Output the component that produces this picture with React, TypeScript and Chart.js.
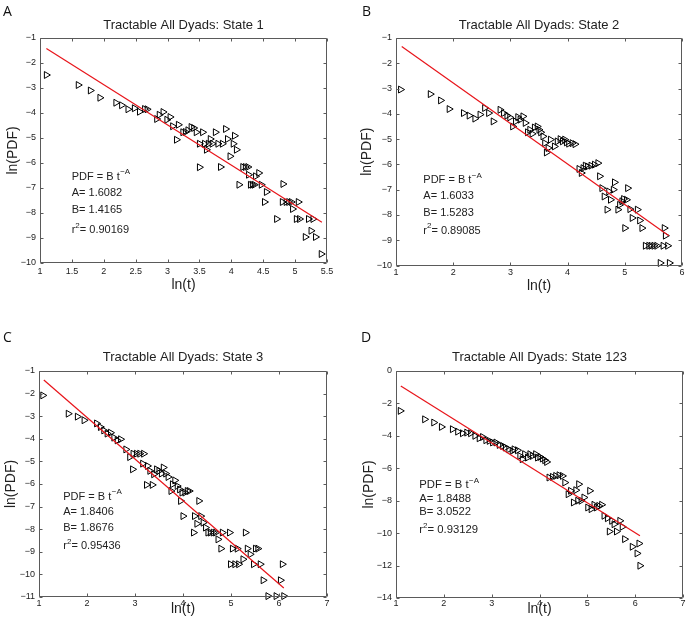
import React, { useEffect, useRef } from "react";
import { Chart, registerables } from "chart.js";

Chart.register(...registerables);

// ---------- data ----------
const panelLetters = ["A", "B", "C", "D"];
const panelTitles = [
  "Tractable All Dyads: State 1",
  "Tractable All Dyads: State 2",
  "Tractable All Dyads: State 3",
  "Tractable All Dyads: State 123",
];
const fitAText = ["1.6082", "1.6033", "1.8406", "1.8488"];
const fitBText = ["1.4165", "1.5283", "1.8676", "3.0522"];
const fitR2Text = ["0.90169", "0.89085", "0.95436", "0.93129"];

const xTitle = "ln(t)";
const yTitle = "ln(PDF)";

// axis ranges [min, max, step]
const xRanges = [
  [1, 5.5, 0.5],
  [1, 6, 1],
  [1, 7, 1],
  [1, 7, 1],
];
const yRanges = [
  [-10, -1, 1],
  [-10, -1, 1],
  [-11, -1, 1],
  [-14, 0, 2],
];

// fitted line end points
const fitLineX1 = [1.1, 5.42];
const fitLineY1 = [-1.421, -8.368];
const fitLineX2 = [1.1, 5.77];
const fitLineY2 = [-1.340, -8.827];
const fitLineX3 = [1.1, 6.1];
const fitLineY3 = [-1.4, -10.603];
const fitLineX4 = [1.1, 6.1];
const fitLineY4 = [-0.918, -10.162];

// annotation anchor (data coords)
const noteX = [1.497, 1.478, 1.506, 1.487];
const noteY = [-6.548, -6.617, -6.562, -7.03];

// State 1
const state1X = [1.10,1.60,1.79,1.94,2.19,2.28,2.38,2.48,2.56,2.64,2.68,2.83,2.87,2.93,2.99,3.04,3.08,3.14,3.17,3.24,3.28,3.32,3.37,3.41,3.45,3.50,3.50,3.55,3.58,3.61,3.64,3.67,3.70,3.75,3.79,3.83,3.86,3.91,3.94,3.98,4.03,4.05,4.08,4.12,4.18,4.22,4.26,4.27,4.30,4.33,4.36,4.38,4.43,4.47,4.52,4.55,4.71,4.80,4.81,4.86,4.90,4.94,4.96,5.02,5.05,5.07,5.16,5.21,5.25,5.28,5.32,5.41];
const state1Y = [-2.48,-2.88,-3.10,-3.39,-3.59,-3.69,-3.85,-3.81,-3.95,-3.84,-3.85,-4.24,-4.07,-3.96,-4.27,-4.16,-4.53,-5.07,-4.47,-4.77,-4.76,-4.69,-4.56,-4.60,-4.77,-5.23,-6.17,-4.77,-5.23,-5.47,-5.23,-5.04,-5.23,-4.77,-5.23,-6.16,-5.23,-4.64,-5.04,-5.73,-5.23,-4.91,-5.47,-6.87,-6.16,-6.16,-6.16,-6.47,-6.87,-6.87,-6.87,-6.53,-6.40,-6.87,-7.56,-7.16,-8.24,-7.56,-6.84,-7.56,-7.56,-7.56,-7.84,-8.24,-7.56,-8.24,-8.96,-8.24,-8.71,-8.24,-8.96,-9.64];

// State 2
const state2X = [1.08,1.60,1.78,1.93,2.18,2.28,2.38,2.47,2.55,2.62,2.70,2.82,2.88,2.94,2.99,3.04,3.09,3.13,3.17,3.22,3.26,3.30,3.34,3.38,3.42,3.47,3.50,3.53,3.57,3.60,3.63,3.66,3.70,3.77,3.82,3.87,3.91,3.95,3.98,4.02,4.08,4.13,4.20,4.24,4.27,4.31,4.35,4.41,4.47,4.53,4.56,4.60,4.64,4.69,4.72,4.75,4.80,4.82,4.88,4.91,4.95,4.98,5.00,5.03,5.05,5.09,5.13,5.22,5.26,5.30,5.36,5.42,5.46,5.51,5.56,5.62,5.67,5.69,5.71,5.75,5.78];
const state2Y = [-3.04,-3.22,-3.47,-3.81,-3.97,-4.07,-4.19,-4.03,-3.77,-3.97,-4.30,-3.84,-3.97,-4.07,-4.14,-4.50,-4.30,-4.13,-4.23,-4.10,-4.36,-4.73,-4.63,-4.79,-4.54,-4.50,-4.63,-4.73,-4.89,-5.16,-5.53,-5.35,-5.02,-5.29,-5.09,-5.00,-5.09,-5.02,-5.13,-5.18,-5.16,-5.20,-6.18,-6.34,-6.15,-6.05,-6.08,-6.05,-6.01,-5.95,-6.47,-6.94,-7.27,-7.79,-7.07,-7.40,-7.00,-6.71,-7.79,-7.60,-7.46,-7.37,-8.52,-7.40,-6.94,-7.77,-8.12,-7.79,-8.22,-8.52,-9.22,-9.22,-9.22,-9.22,-9.22,-9.90,-9.22,-8.52,-8.82,-9.22,-9.90];

// State 3
const state3X = [1.08,1.61,1.80,1.94,2.20,2.28,2.35,2.42,2.49,2.56,2.63,2.70,2.81,2.89,2.95,2.96,3.03,3.10,3.16,3.18,3.26,3.31,3.24,3.36,3.39,3.45,3.50,3.55,3.59,3.64,3.69,3.75,3.78,3.83,3.88,3.93,3.95,3.98,4.00,4.04,4.09,4.13,4.22,4.24,4.29,4.33,4.37,4.42,4.47,4.52,4.57,4.63,4.68,4.73,4.79,4.82,4.97,4.99,5.03,5.08,5.13,5.16,5.25,5.30,5.34,5.40,5.47,5.51,5.56,5.61,5.67,5.77,5.94,6.03,6.07,6.10];
const state3Y = [-2.08,-2.89,-3.02,-3.18,-3.32,-3.48,-3.63,-3.77,-3.73,-3.95,-4.07,-4.02,-4.47,-4.81,-5.35,-4.66,-4.66,-4.66,-5.10,-4.66,-5.20,-5.42,-6.04,-6.04,-5.57,-5.35,-5.42,-5.54,-5.27,-5.54,-5.69,-6.31,-6.01,-5.84,-6.09,-6.24,-6.75,-6.38,-7.42,-6.38,-6.31,-6.31,-8.15,-7.42,-7.76,-6.75,-7.42,-7.71,-7.93,-8.15,-8.15,-8.15,-8.15,-8.45,-8.86,-8.15,-8.15,-9.55,-8.86,-9.55,-8.86,-9.55,-9.33,-8.15,-8.86,-9.11,-9.55,-8.86,-8.86,-9.55,-10.26,-10.96,-10.96,-10.26,-9.55,-10.96];

// State 123
const state123X = [1.09,1.60,1.79,1.95,2.18,2.29,2.39,2.48,2.56,2.65,2.74,2.81,2.88,2.95,3.02,3.09,3.16,3.23,3.29,3.36,3.43,3.47,3.54,3.59,3.64,3.69,3.75,3.80,3.85,3.92,3.96,4.01,4.06,4.11,4.15,4.20,4.27,4.34,4.41,4.48,4.53,4.60,4.65,4.71,4.76,4.80,4.82,4.87,4.93,5.01,5.05,5.08,5.14,5.19,5.24,5.30,5.35,5.42,5.46,5.51,5.56,5.61,5.68,5.73,5.78,5.94,6.04,6.08,6.10];
const state123Y = [-2.46,-2.98,-3.18,-3.45,-3.59,-3.74,-3.84,-3.80,-3.84,-4.00,-4.15,-4.07,-4.27,-4.31,-4.41,-4.41,-4.56,-4.62,-4.72,-4.83,-4.93,-4.83,-4.89,-5.24,-5.44,-5.13,-5.34,-5.13,-5.24,-5.13,-5.34,-5.30,-5.40,-5.50,-5.61,-6.57,-6.53,-6.47,-6.43,-6.47,-6.88,-7.60,-7.39,-8.11,-7.35,-8.00,-6.98,-8.00,-7.80,-8.42,-7.39,-8.52,-8.25,-8.42,-8.32,-8.25,-8.93,-9.08,-9.90,-9.24,-9.45,-9.90,-9.24,-9.61,-10.37,-10.84,-11.25,-10.64,-12.01];

const pointsX = [state1X, state2X, state3X, state123X];
const pointsY = [state1Y, state2Y, state3Y, state123Y];
const linesX = [fitLineX1, fitLineX2, fitLineX3, fitLineX4];
const linesY = [fitLineY1, fitLineY2, fitLineY3, fitLineY4];

// ---------- layout (canvas-relative pixels) ----------
const CW = 345;
const CH = 314;
const layouts = [
  { left: 0, top: 0, l: 40, r: 327, t: 38, b: 263, titleY: 25, xTitleY: 285, yTitleX: 13, xPad: 3, noteOff: [0, 16.5, 32.8, 53.3], noteFont: 11, letterL: 3, letterT: 4 },
  { left: 344, top: 0, l: 52, r: 338, t: 38, b: 265.5, titleY: 25, xTitleY: 286, yTitleX: 23, xPad: 2, noteOff: [0, 15.5, 33, 50.5], noteFont: 11, letterL: 18, letterT: 4 },
  { left: 0, top: 314, l: 39, r: 327, t: 57, b: 283, titleY: 43, xTitleY: 295, yTitleX: 11, xPad: 1, noteOff: [0, 15.7, 31.7, 49.3], noteFont: 11, letterL: 3, letterT: 16 },
  { left: 344, top: 314, l: 52, r: 339, t: 57, b: 284, titleY: 43, xTitleY: 295, yTitleX: 25, xPad: 0, noteOff: [0, 14.3, 27.3, 45], noteFont: 11.3, letterL: 17, letterT: 16 },
];

const FONT = "'Liberation Sans', Arial, Helvetica, sans-serif";
const AXIS_COLOR = "#5a5a5a";
const TEXT_COLOR = "#222222";

function fmtMinus(v: number) {
  const s = String(Math.round(v * 100) / 100);
  return v < 0 ? "\u2212" + s.slice(1) : s;
}

function Panel({ idx }: { idx: number }) {
  const ref = useRef<HTMLCanvasElement | null>(null);
  useEffect(() => {
    const L = layouts[idx];
    const [xMin, xMax, xStep] = xRanges[idx];
    const [yMin, yMax, yStep] = yRanges[idx];
    const pts = pointsX[idx].map((x, i) => ({ x, y: pointsY[idx][i] }));
    const line = linesX[idx].map((x, i) => ({ x, y: linesY[idx][i] }));

    const deco = {
      id: "deco" + idx,
      afterDraw(chart: any) {
        const { ctx, chartArea: a, scales } = chart;
        const xs = scales.x;
        const ys = scales.y;
        ctx.save();
        // box
        ctx.strokeStyle = AXIS_COLOR;
        ctx.lineWidth = 1;
        const left = Math.round(a.left) + 0.5;
        const right = Math.round(a.right) - 0.5;
        const top = Math.round(a.top) + 0.5;
        const bottom = Math.round(a.bottom) - 0.5;
        ctx.beginPath();
        ctx.rect(left, top, right - left, bottom - top);
        ctx.stroke();
        // inward ticks
        const tl = 3;
        ctx.beginPath();
        xs.ticks.forEach((t: any) => {
          const px = Math.round(xs.getPixelForValue(t.value)) + 0.5;
          ctx.moveTo(px, bottom);
          ctx.lineTo(px, bottom - tl);
          ctx.moveTo(px, top);
          ctx.lineTo(px, top + tl);
        });
        ys.ticks.forEach((t: any) => {
          const py = Math.round(ys.getPixelForValue(t.value)) + 0.5;
          ctx.moveTo(left, py);
          ctx.lineTo(left + tl, py);
          ctx.moveTo(right, py);
          ctx.lineTo(right - tl, py);
        });
        ctx.stroke();

        // title
        ctx.fillStyle = TEXT_COLOR;
        ctx.textAlign = "center";
        ctx.textBaseline = "middle";
        ctx.font = `13px ${FONT}`;
        ctx.fillText(panelTitles[idx], (a.left + a.right) / 2, L.titleY);
        // axis titles
        ctx.font = `14px ${FONT}`;
        ctx.fillText(xTitle, (a.left + a.right) / 2, L.xTitleY);
        ctx.save();
        ctx.translate(L.yTitleX, (a.top + a.bottom) / 2);
        ctx.rotate(-Math.PI / 2);
        ctx.fillText(yTitle, 0, 0);
        ctx.restore();

        // annotation
        const nx = xs.getPixelForValue(noteX[idx]);
        const ny = ys.getPixelForValue(noteY[idx]);
        const o = L.noteOff;
        ctx.textAlign = "left";
        ctx.textBaseline = "middle";
        const main = `${L.noteFont}px ${FONT}`;
        const sup = `8px ${FONT}`;
        ctx.font = main;
        const s = "PDF = B t";
        ctx.fillText(s, nx, ny + o[0]);
        let w = ctx.measureText(s).width;
        ctx.font = sup;
        ctx.fillText("\u2212A", nx + w + 0.5, ny + o[0] - 4.5);
        ctx.font = main;
        ctx.fillText("A= " + fitAText[idx], nx, ny + o[1]);
        ctx.fillText("B= " + fitBText[idx], nx, ny + o[2]);
        ctx.fillText("r", nx, ny + o[3]);
        w = ctx.measureText("r").width;
        ctx.font = sup;
        ctx.fillText("2", nx + w, ny + o[3] - 4.5);
        const w2 = ctx.measureText("2").width;
        ctx.font = main;
        ctx.fillText("= " + fitR2Text[idx], nx + w + w2, ny + o[3]);
        ctx.restore();
      },
    };

    const chart = new Chart(ref.current as HTMLCanvasElement, {
      type: "scatter",
      data: {
        datasets: [
          {
            data: line,
            showLine: true,
            borderColor: "#e8141a",
            borderWidth: 1.2,
            pointRadius: 0,
            pointHoverRadius: 0,
            fill: false,
          } as any,
          {
            data: pts,
            showLine: false,
            pointStyle: "triangle",
            rotation: 90,
            pointRadius: 4,
            pointHoverRadius: 4,
            borderColor: "#000000",
            borderWidth: 1,
            backgroundColor: "rgba(0,0,0,0)",
            clip: false,
          } as any,
        ],
      },
      options: {
        animation: false,
        responsive: false,
        events: [],
        layout: {
          padding: { left: 0, top: L.t, right: CW - L.r, bottom: 0 },
        },
        plugins: {
          legend: { display: false },
          tooltip: { enabled: false },
          title: { display: false },
        },
        scales: {
          x: {
            type: "linear",
            min: xMin,
            max: xMax,
            grid: { display: false, drawTicks: false },
            border: { display: false },
            ticks: {
              stepSize: xStep,
              autoSkip: false,
              maxRotation: 0,
              padding: L.xPad,
              color: TEXT_COLOR,
              font: { family: FONT, size: 9 },
              callback: (v: any) => fmtMinus(Number(v)),
            },
            afterFit: (s: any) => {
              s.height = CH - L.b;
            },
          },
          y: {
            type: "linear",
            min: yMin,
            max: yMax,
            grid: { display: false, drawTicks: false },
            border: { display: false },
            ticks: {
              stepSize: yStep,
              autoSkip: false,
              padding: 4,
              color: TEXT_COLOR,
              font: { family: FONT, size: 9 },
              callback: (v: any) => fmtMinus(Number(v)),
            },
            afterFit: (s: any) => {
              s.width = L.l;
            },
          },
        },
      } as any,
      plugins: [deco],
    });
    return () => chart.destroy();
  }, [idx]);

  const L = layouts[idx];
  return (
    <div style={{ position: "absolute", left: L.left, top: L.top, width: CW, height: CH }}>
      <canvas ref={ref} width={CW} height={CH} style={{ display: "block" }} />
      <div
        style={{
          position: "absolute",
          left: L.letterL,
          top: L.letterT,
          font: "14px 'Open Sans', sans-serif",
          lineHeight: "14px",
          color: "#111",
        }}
      >
        {panelLetters[idx]}
      </div>
    </div>
  );
}

export default function App() {
  return (
    <div style={{ position: "absolute", left: 0, top: 0, width: 689, height: 628, background: "#fff" }}>
      {[0, 1, 2, 3].map((i) => (
        <Panel key={i} idx={i} />
      ))}
    </div>
  );
}
